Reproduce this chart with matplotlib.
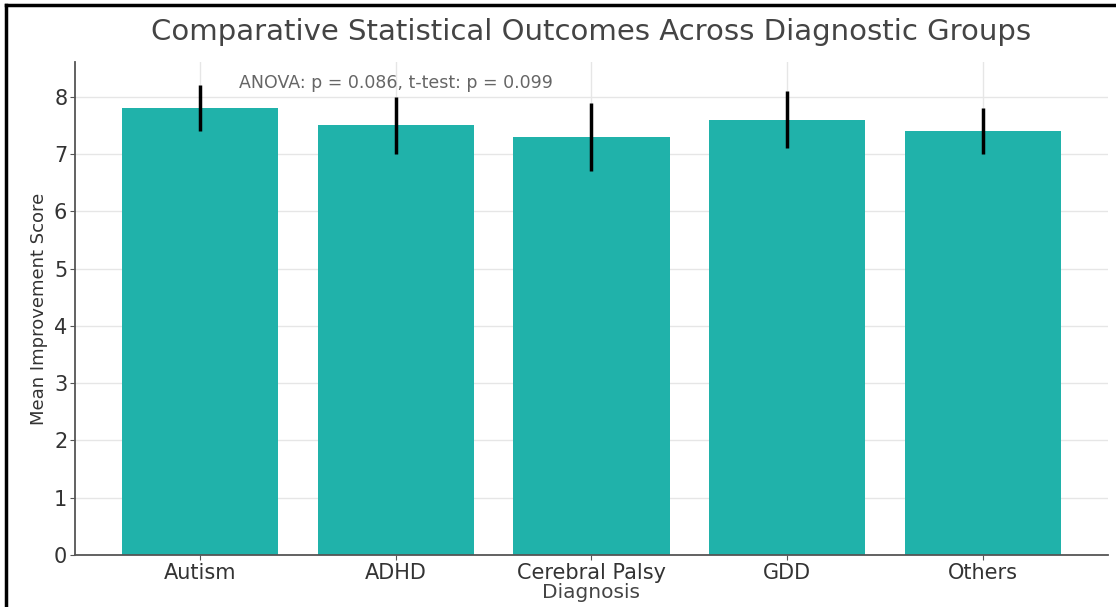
import matplotlib.pyplot as plt
from matplotlib.lines import Line2D

groups = ["Autism", "ADHD", "Cerebral Palsy", "GDD", "Others"]
means = [7.8, 7.5, 7.3, 7.6, 7.4]
errors = [0.4, 0.5, 0.6, 0.5, 0.4]
note = "ANOVA: p = 0.086, t-test: p = 0.099"

fig = plt.figure(figsize=(11.16, 6.07), dpi=100)
ax = fig.add_axes([0.0672, 0.0857, 0.9256, 0.8123])

ax.bar(groups, means, yerr=errors, color="#20B2AA", width=0.8,
       error_kw=dict(ecolor="black", elinewidth=2.5, capsize=0), zorder=2)

ax.grid(True, color="#e6e6e6", linewidth=1, zorder=0)
ax.set_axisbelow(True)
for side in ["top", "right"]:
    ax.spines[side].set_visible(False)
for side in ["left", "bottom"]:
    ax.spines[side].set_color("#555555")
    ax.spines[side].set_linewidth(1.3)

ax.tick_params(axis="both", colors="#555555", labelsize=15, labelcolor="#333333",
               pad=2)

ax.set_title("Comparative Statistical Outcomes Across Diagnostic Groups",
             fontsize=21, color="#444444", pad=16)
ax.set_xlabel("Diagnosis", fontsize=14.5, color="#444444", labelpad=0)
ax.set_ylabel("Mean Improvement Score", fontsize=13, color="#333333")

ax.text(0.2, 8.08, note, fontsize=12.5, color="#666666", va="bottom")

# frame around the picture (top and left edges)
fig.add_artist(Line2D([0.005, 1.0], [0.992, 0.992], color="black", lw=2.5,
                      transform=fig.transFigure))
fig.add_artist(Line2D([0.005, 0.005], [0.0, 0.992], color="black", lw=2.5,
                      transform=fig.transFigure))

fig.savefig("out.png", dpi=100)
